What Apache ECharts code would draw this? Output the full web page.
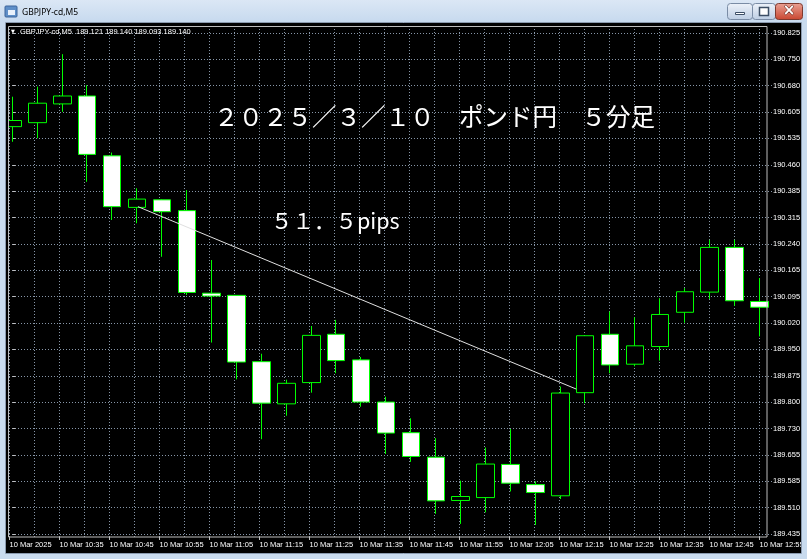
<!DOCTYPE html>
<html>
<head>
<meta charset="utf-8">
<script src="https://cdn.jsdelivr.net/npm/echarts@6/dist/echarts.min.js"></script>
<style>
html,body{margin:0;padding:0;background:#c9dbee;}
#main{width:807px;height:559px;}
</style>
</head>
<body>
<div id="main"></div>
<script>
// GBPJPY M5 candles, 10 Mar 2025
var times = ['10:25','10:30','10:35','10:40','10:45','10:50','10:55','11:00','11:05','11:10',
  '11:15','11:20','11:25','11:30','11:35','11:40','11:45','11:50','11:55','12:00',
  '12:05','12:10','12:15','12:20','12:25','12:30','12:35','12:40','12:45','12:50','12:55'];
var openP  = [190.565,190.576,190.628,190.650,190.484,190.341,190.362,190.332,190.103,190.097,
  189.913,189.796,189.855,189.989,189.918,189.801,189.716,189.648,189.528,189.536,
  189.628,189.572,189.541,189.827,189.989,189.906,189.955,190.050,190.106,190.230,190.080];
var closeP = [190.582,190.630,190.650,190.488,190.343,190.364,190.329,190.105,190.095,189.912,
  189.798,189.853,189.986,189.916,189.801,189.715,189.650,189.527,189.539,189.629,
  189.576,189.550,189.826,189.985,189.904,189.957,190.044,190.107,190.230,190.082,190.064];
var lowP   = [190.523,190.533,190.606,190.412,190.306,190.297,190.204,190.098,189.966,189.864,
  189.698,189.763,189.827,189.881,189.788,189.657,189.635,189.491,189.463,189.495,
  189.553,189.460,189.532,189.798,189.881,189.900,189.916,190.021,190.087,190.068,189.983];
var highP  = [190.648,190.676,190.766,190.680,190.493,190.394,190.364,190.389,190.195,190.098,
  189.935,189.863,190.012,190.029,189.926,189.816,189.756,189.701,189.583,189.675,
  189.726,189.581,189.844,189.986,190.052,190.036,190.089,190.117,190.251,190.251,190.145];

// time labels, one every second bar
var xLabels = ['10 Mar 2025','10 Mar 10:35','10 Mar 10:45','10 Mar 10:55','10 Mar 11:05','10 Mar 11:15',
  '10 Mar 11:25','10 Mar 11:35','10 Mar 11:45','10 Mar 11:55','10 Mar 12:05','10 Mar 12:15',
  '10 Mar 12:25','10 Mar 12:35','10 Mar 12:45','10 Mar 12:55'];
// price scale, bottom to top
var yLabels = ['189.435','189.510','189.585','189.655','189.730','189.800','189.875','189.950','190.020','190.095',
  '190.165','190.240','190.315','190.385','190.460','190.535','190.605','190.680','190.750','190.825'];
var priceMin = 189.435, priceMax = 190.825;

// hand drawn trend line (x in bar index units)
var trendLine = [[5.04, 190.343], [22.64, 189.837]];

var candles = [];
for (var i = 0; i < times.length; i++) {
  candles.push([openP[i], closeP[i], lowP[i], highP[i]]);
}
var yStep = (priceMax - priceMin) / (yLabels.length - 1);

var frameBlue = '#c9dbee';
var gridCol = '#8796a8';
var lblFont = 'Liberation Sans, Arial, sans-serif';
var btnFill = {type: 'linear', x: 0, y: 0, x2: 0, y2: 1,
  colorStops: [{offset: 0, color: '#eef3fa'}, {offset: 1, color: '#bccde3'}]};

var chart = echarts.init(document.getElementById('main'));

var option = {
  backgroundColor: '#000000',
  animation: false,
  grid: [
    {left: -3, right: 35, top: 32.9, bottom: 25},
    {left: 9.5, right: 47.5, top: 26, bottom: 22}
  ],
  xAxis: [
    {type: 'category', gridIndex: 0, data: times, show: false},
    {
      type: 'category', gridIndex: 1, data: times, boundaryGap: false,
      axisLine: {show: false},
      axisTick: {show: true, interval: 1, length: 3, lineStyle: {color: '#c0c0c0'}},
      axisLabel: {
        interval: 0, align: 'left', margin: 4, color: '#ffffff',
        fontFamily: lblFont, fontSize: 7.5,
        formatter: function (v, idx) { return idx % 2 === 0 ? xLabels[idx / 2] : ''; }
      },
      splitLine: {show: true, interval: 0, lineStyle: {color: gridCol, width: 1, type: [1, 2]}}
    },
    {type: 'value', gridIndex: 0, min: -0.5, max: times.length - 0.5, show: false}
  ],
  yAxis: [
    {
      type: 'value', gridIndex: 0, position: 'right', offset: -4,
      min: priceMin, max: priceMax, interval: yStep,
      axisLine: {show: false},
      axisTick: {show: true, length: 3, lineStyle: {color: '#c0c0c0'}},
      axisLabel: {
        margin: 5, color: '#ffffff', fontFamily: lblFont, fontSize: 7.5,
        showMinLabel: true, showMaxLabel: true,
        formatter: function (v) {
          var k = Math.round((v - priceMin) / yStep);
          return yLabels[k] || '';
        }
      },
      splitLine: {show: true, lineStyle: {color: gridCol, width: 1, type: [1, 2]}}
    },
    {type: 'value', gridIndex: 1, show: false}
  ],
  series: [
    {
      type: 'candlestick',
      xAxisIndex: 0, yAxisIndex: 0,
      barWidth: 18,
      data: candles,
      itemStyle: {
        color: '#000000', color0: '#ffffff',
        borderColor: '#00ff00', borderColor0: '#00ff00', borderWidth: 1
      }
    },
    {
      type: 'line',
      xAxisIndex: 2, yAxisIndex: 0,
      data: trendLine,
      symbol: 'none',
      z: 5,
      lineStyle: {color: '#e0e0e0', width: 1}
    }
  ],
  graphic: [
    // window frame strips drawn over the black background
    {type: 'rect', z: 50, shape: {x: 0, y: 0, width: 807, height: 23},
      style: {fill: {type: 'linear', x: 0, y: 0, x2: 0, y2: 1,
        colorStops: [{offset: 0, color: '#dbe7f5'}, {offset: 1, color: '#c6d9ee'}]}}},
    {type: 'rect', z: 50, shape: {x: 0, y: 22, width: 6, height: 537}, style: {fill: frameBlue}},
    {type: 'rect', z: 50, shape: {x: 801, y: 22, width: 6, height: 537}, style: {fill: frameBlue}},
    {type: 'rect', z: 50, shape: {x: 0, y: 553, width: 807, height: 6}, style: {fill: frameBlue}},
    {type: 'rect', z: 50, shape: {x: 6, y: 24, width: 2, height: 528}, style: {fill: '#000000'}},
    {type: 'rect', z: 51, shape: {x: 5.5, y: 22.5, width: 796, height: 531},
      style: {fill: null, stroke: '#8a9aae', lineWidth: 1}},
    // plot frame
    {type: 'rect', z: 51, shape: {x: 8.5, y: 26.5, width: 758.5, height: 510.5},
      style: {fill: null, stroke: '#bdbdbd', lineWidth: 1}},
    // title icon and caption
    {type: 'rect', z: 60, shape: {x: 5, y: 6, width: 12, height: 11, r: 1},
      style: {fill: '#5f8fc8', stroke: '#3c659b', lineWidth: 1}},
    {type: 'rect', z: 61, shape: {x: 8, y: 10, width: 7, height: 5}, style: {fill: '#e9f1fb'}},
    {type: 'text', z: 60, x: 22, y: 13,
      style: {text: 'GBPJPY-cd,M5', fill: '#000000', font: '8.5px "Noto Sans", sans-serif', verticalAlign: 'middle'}},
    // window buttons
    {type: 'rect', z: 60, shape: {x: 727.5, y: 3.5, width: 25, height: 16, r: 3},
      style: {fill: btnFill, stroke: '#7a8ca5'}},
    {type: 'rect', z: 61, shape: {x: 735.5, y: 12.5, width: 9, height: 2},
      style: {fill: '#ffffff', stroke: '#3d4f66', lineWidth: 1}},
    {type: 'rect', z: 60, shape: {x: 752.5, y: 3.5, width: 23, height: 16, r: 3},
      style: {fill: btnFill, stroke: '#7a8ca5'}},
    {type: 'rect', z: 61, shape: {x: 759.5, y: 7.5, width: 9, height: 8},
      style: {fill: '#ffffff', stroke: '#3d4f66', lineWidth: 1.5}},
    {type: 'rect', z: 60, shape: {x: 775.5, y: 3.5, width: 27, height: 16, r: 3},
      style: {fill: {type: 'linear', x: 0, y: 0, x2: 0, y2: 1,
        colorStops: [{offset: 0, color: '#eaa396'}, {offset: 1, color: '#c8452f'}]}, stroke: '#7e3a2f'}},
    {type: 'text', z: 61, x: 789, y: 11.5,
      style: {text: '×', fill: '#ffffff', font: 'bold 15px "DejaVu Sans", sans-serif', align: 'center', verticalAlign: 'middle',
        stroke: '#6b2a20', lineWidth: 1}},
    // chart header
    {type: 'text', z: 60, x: 11, y: 32,
      style: {text: '▼', fill: '#ffffff', font: '5px "DejaVu Sans", sans-serif', verticalAlign: 'middle'}},
    {type: 'text', z: 60, x: 20, y: 32,
      style: {text: 'GBPJPY-cd,M5  189.121 189.140 189.093 189.140', fill: '#ffffff',
        font: '7.5px ' + lblFont, verticalAlign: 'middle'}},
    // annotations
    {type: 'text', z: 60, x: 214, y: 117,
      style: {text: '２０２５／３／１０　ポンド円　５分足', fill: '#ffffff',
        font: '24.5px "Noto Sans CJK JP", sans-serif', verticalAlign: 'middle'}},
    {type: 'text', z: 60, x: 271, y: 221,
      style: {text: '５１．５pips', fill: '#ffffff',
        font: '21.5px "Noto Sans CJK JP", sans-serif', verticalAlign: 'middle'}}
  ]
};

chart.setOption(option);
</script>
</body>
</html>
